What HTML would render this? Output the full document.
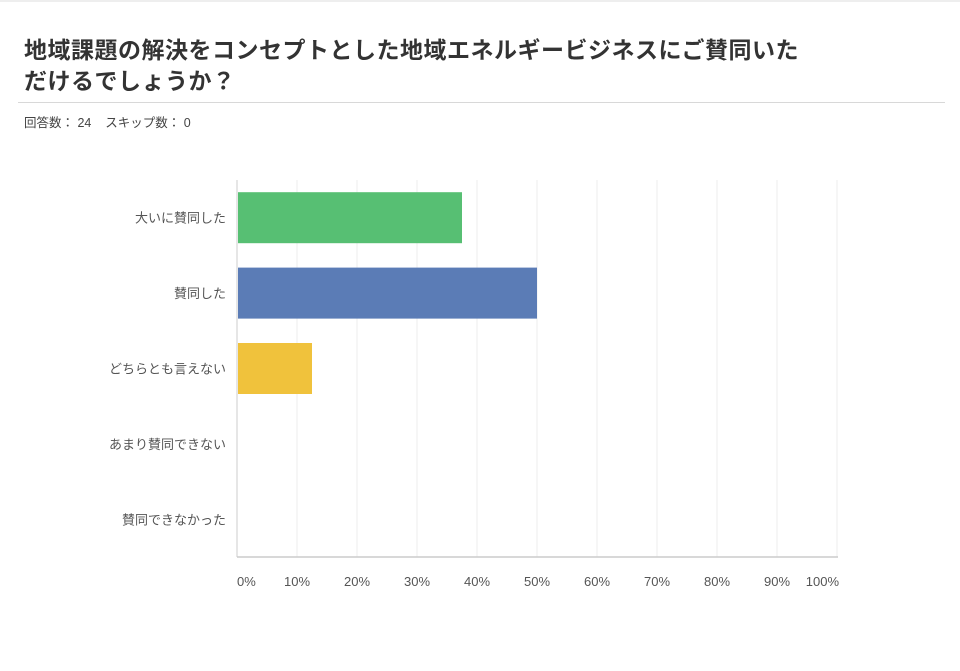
<!DOCTYPE html>
<html><head><meta charset="utf-8"><style>
body{margin:0;background:#fff;font-family:"Liberation Sans","Noto Sans CJK JP",sans-serif;}
#wrap{position:relative;width:960px;height:671px;overflow:hidden;border-top:2px solid #eee;box-sizing:border-box;}
#title{position:absolute;left:24px;top:33px;font-size:23px;letter-spacing:0.5px;font-weight:bold;color:#333;line-height:31px;width:900px;white-space:nowrap;}
#rule{position:absolute;left:18px;top:100px;width:927px;height:1px;background:#d8d8d8;}
#meta{position:absolute;left:24px;top:110px;font-size:12.5px;color:#444;}
</style></head><body>
<div id="wrap">
<div id="title">地域課題の解決をコンセプトとした地域エネルギービジネスにご賛同いた<br>だけるでしょうか？</div>
<div id="rule"></div>
<div id="meta">回答数：&nbsp;24&nbsp;&nbsp;&nbsp;&nbsp;スキップ数：&nbsp;0</div>
<svg id="chart" width="960" height="671" style="position:absolute;left:0;top:0"></svg>
</div>
<script>
const categories=["大いに賛同した","賛同した","どちらとも言えない","あまり賛同できない","賛同できなかった"];
const values=[37.5,50,12.5,0,0];
const colors=["#57bf73","#5b7cb6","#f0c23c","#e87d5a","#9f7fc6"];
const ticks=[0,10,20,30,40,50,60,70,80,90,100];
const tickLabels=["0%","10%","20%","30%","40%","50%","60%","70%","80%","90%","100%"];
const svg=document.getElementById('chart');
const NS="http://www.w3.org/2000/svg";
const L=237,R=837,T=178,B=555;
const x=v=>L+(v/100)*(R-L);
const band=(B-T)/categories.length;
const y=i=>T+i*band;
function mk(t,a){const e=document.createElementNS(NS,t);for(const k in a)e.setAttribute(k,a[k]);svg.appendChild(e);return e;}
ticks.forEach((t,i)=>{
 const g=mk('line',{x1:x(t),x2:x(t),y1:T,y2:B,stroke:i===0?'#ccc':'#ececec','stroke-width':1});
 
 
 const lb=mk('text',{x:i===0?x(t):(i===ticks.length-1?x(t)+2:x(t)),y:584,'font-size':13,fill:'#555','text-anchor':i===0?'start':(i===ticks.length-1?'end':'middle')});
 lb.textContent=tickLabels[i];
 
 
});
const ax=mk('line',{x1:L,x2:R+1,y1:B,y2:B,stroke:'#ccc','stroke-width':1.5});


categories.forEach((c,i)=>{
 const bh=51;
 const by=y(i)+(band-bh)/2;
 if(values[i]>0){
  const r=mk('rect',{x:L+1,y:by,width:x(values[i])-L-1,height:bh,fill:colors[i]});
  
  
 }
 const t=mk('text',{x:226,y:y(i)+band/2+5,'font-size':13,fill:'#555','text-anchor':'end'});
 t.textContent=c;
 
 
});
</script>
</body></html>
